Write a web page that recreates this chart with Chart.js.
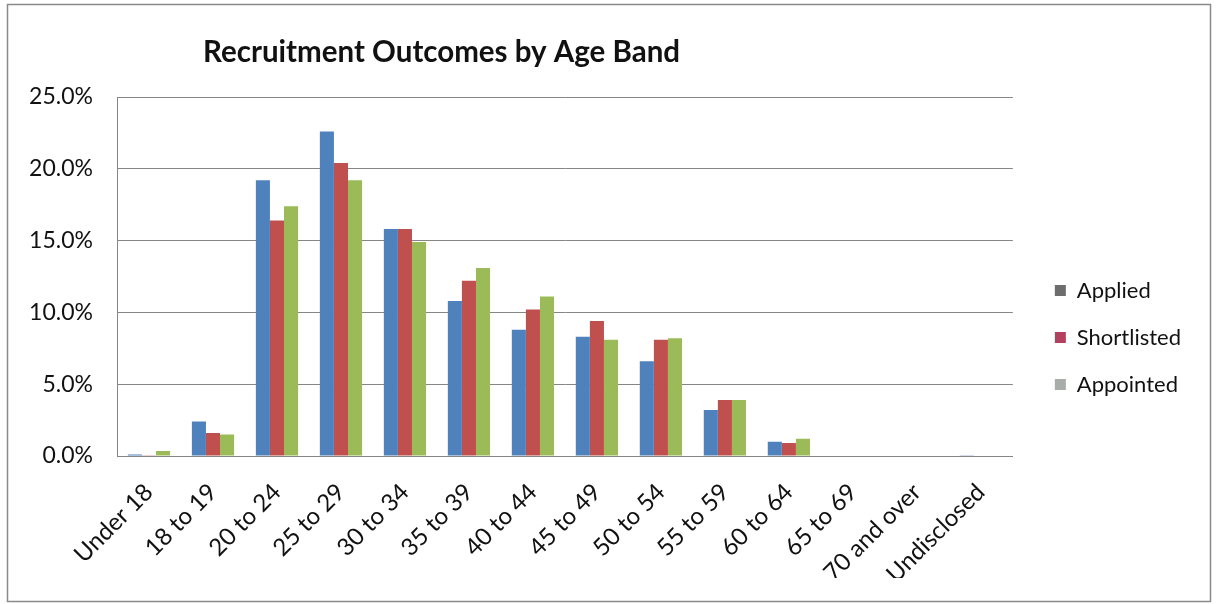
<!DOCTYPE html>
<html>
<head>
<meta charset="utf-8">
<script src="https://cdn.jsdelivr.net/npm/chart.js@4.4.0/dist/chart.umd.min.js"></script>
<style>
  body { margin: 0; background: #fff; }
  #wrap { position: absolute; left: 0; top: 0; width: 1218px; height: 604px; }
</style>
</head>
<body>
<div id="wrap"><canvas id="ageChart"></canvas></div>
<script>
const ageBands = ["Under 18", "18 to 19", "20 to 24", "25 to 29", "30 to 34", "35 to 39", "40 to 44",
  "45 to 49", "50 to 54", "55 to 59", "60 to 64", "65 to 69", "70 and over", "Undisclosed"]
// percentage of each outcome falling in each band
const applied = [0.1, 2.4, 19.2, 22.6, 15.8, 10.8, 8.8, 8.3, 6.6, 3.2, 1.0, 0, 0, 0.05]
const shortlisted = [0.05, 1.6, 16.4, 20.4, 15.8, 12.2, 10.2, 9.4, 8.1, 3.9, 0.9, 0, 0, 0]
const appointed = [0.35, 1.5, 17.4, 19.2, 14.9, 13.1, 11.1, 8.1, 8.2, 3.9, 1.2, 0, 0, 0]
const yTicks = [0, 5, 10, 15, 20, 25]

const chartTitle = "Recruitment Outcomes by Age Band"
const legendColors = ["#6d6d6d", "#b3405f", "#a9ada9"]

// white background, outer frame and the title
const framePlugin = {
  id: 'frame',
  beforeDraw(chart) {
    const c = chart.ctx
    c.save()
    c.fillStyle = '#fff'
    c.fillRect(0, 0, chart.width, chart.height)
    c.strokeStyle = '#8a8a8a'
    c.lineWidth = 1.5
    c.strokeRect(7.5, 4.5, 1203, 597)
    c.restore()
  },
  afterDraw(chart) {
    const c = chart.ctx
    c.save()
    c.font = 'bold 29.5px Lato'
    c.fillStyle = '#111'
    c.textBaseline = 'alphabetic'
    c.fillText(chartTitle, 203, 62)
    c.restore()
  }
}

const ctx = document.getElementById('ageChart')
new Chart(ctx, {
  type: 'bar',
  data: {
    labels: ageBands,
    datasets: [{
      label: 'Applied',
      data: applied,
      backgroundColor: '#4f81bd'
    },
    {
      label: 'Shortlisted',
      data: shortlisted,
      backgroundColor: '#c0504d'
    },
    {
      label: 'Appointed',
      data: appointed,
      backgroundColor: '#9bbb59'
    }]
  },
  plugins: [framePlugin],
  options: {
    responsive: true,
    maintainAspectRatio: false,
    animation: false,
    layout: {
      padding: { top: 97, bottom: 26, left: 0, right: 27 }
    },
    datasets: {
      bar: { categoryPercentage: 0.66, barPercentage: 1.0 }
    },
    plugins: {
      tooltip: { enabled: false },
      legend: {
        position: 'right',
        labels: {
          font: { family: 'Lato', size: 22 },
          color: '#111',
          boxWidth: 11,
          boxHeight: 11,
          padding: 25,
          generateLabels(chart) {
            const items = Chart.defaults.plugins.legend.labels.generateLabels(chart)
            items.forEach(function(it, i) {
              it.fillStyle = legendColors[i]
              it.strokeStyle = legendColors[i]
              it.lineWidth = 0
            })
            return items
          }
        }
      }
    },
    scales: {
      x: {
        grid: { display: false, drawTicks: false },
        border: { color: '#868686', width: 1 },
        ticks: {
          font: { family: 'Lato', size: 24 },
          color: '#111',
          minRotation: 45,
          maxRotation: 45,
          autoSkip: false,
          padding: 22
        },
        afterFit(scale) { scale.height = 122 }
      },
      y: {
        min: 0,
        max: 25,
        afterBuildTicks(scale) {
          scale.ticks = yTicks.map(function(v) { return { value: v } })
        },
        grid: { color: '#868686', drawTicks: false },
        border: { color: '#868686', width: 1 },
        ticks: {
          font: { family: 'Lato', size: 23 },
          color: '#111',
          padding: 24,
          callback: function(v) { return v.toFixed(1) + '%' }
        },
        afterFit(scale) { scale.width = 117 }
      },
      // empty axis that only keeps a gap between the plot and the legend
      gap: {
        axis: 'y',
        position: 'right',
        display: true,
        grid: { display: false, drawTicks: false },
        border: { display: false },
        ticks: { display: false },
        afterFit(scale) { scale.width = 17 }
      }
    }
  }
})
</script>
</body>
</html>
